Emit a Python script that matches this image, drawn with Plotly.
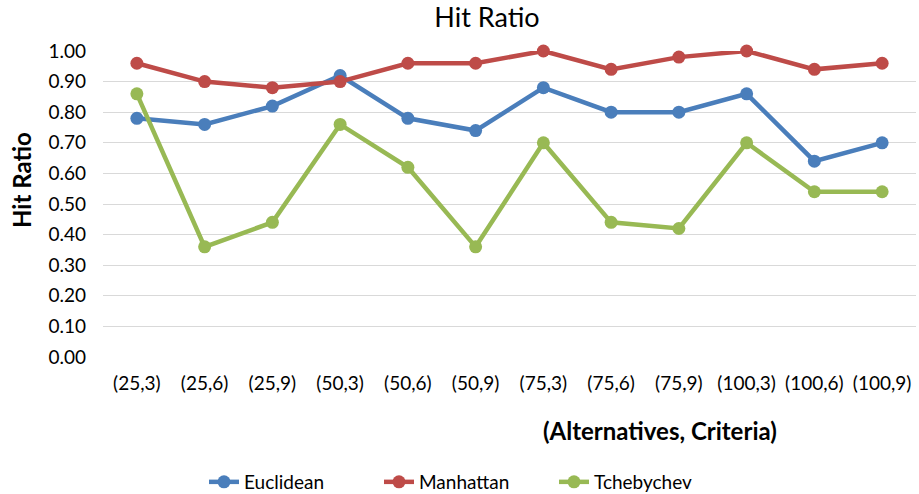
import plotly.graph_objects as go

categories = ["(25,3)", "(25,6)", "(25,9)", "(50,3)", "(50,6)", "(50,9)",
              "(75,3)", "(75,6)", "(75,9)", "(100,3)", "(100,6)", "(100,9)"]
euclidean = [0.78, 0.76, 0.82, 0.92, 0.78, 0.74, 0.88, 0.80, 0.80, 0.86, 0.64, 0.70]
manhattan = [0.96, 0.90, 0.88, 0.90, 0.96, 0.96, 1.00, 0.94, 0.98, 1.00, 0.94, 0.96]
tchebychev = [0.86, 0.36, 0.44, 0.76, 0.62, 0.36, 0.70, 0.44, 0.42, 0.70, 0.54, 0.54]
y_ticks = [0.0, 0.1, 0.2, 0.3, 0.4, 0.5, 0.6, 0.7, 0.8, 0.9, 1.0]

series = [("Euclidean", euclidean, "#4A7EBB"),
          ("Manhattan", manhattan, "#BE4B48"),
          ("Tchebychev", tchebychev, "#98B954")]

fig = go.Figure()
for name, vals, color in series:
    fig.add_trace(go.Scatter(
        x=categories, y=vals, name=name, mode="lines+markers",
        line=dict(color=color, width=4.5),
        marker=dict(color=color, size=13),
        cliponaxis=False,
    ))

font = "Lato, 'Open Sans', sans-serif"
fig.update_layout(
    width=919, height=494,
    margin=dict(l=103, r=3, t=51, b=137, autoexpand=False),
    plot_bgcolor="white", paper_bgcolor="white",
    font=dict(family=font, color="#000000", size=19),
    title=dict(text="Hit Ratio", xref="container", x=487 / 919, xanchor="center",
               yref="container", y=1 - 18 / 494, yanchor="middle",
               font=dict(size=27, color="#000000", family=font)),
    xaxis=dict(type="category", range=[-0.5, 11.5], showgrid=False, automargin=False,
               showline=False, ticks="", tickfont=dict(size=19), ticklabelstandoff=13),
    yaxis=dict(range=[0, 1.0], tickvals=y_ticks, tickformat=".2f", automargin=False,
               showgrid=True, gridcolor="#D9D9D9", gridwidth=1.3,
               zeroline=False, showline=False, ticks="",
               tickfont=dict(size=19), ticklabelstandoff=16),
    legend=dict(orientation="h", xref="container", yref="container",
                x=204 / 919, xanchor="left", y=1 - 482 / 494, yanchor="middle",
                font=dict(size=19), entrywidth=130, entrywidthmode="pixels"),
    annotations=[
        dict(text="<b>(Alternatives, Criteria)</b>", xref="paper", yref="paper",
             x=(660 - 103) / 813, y=-(430 - 357) / 306, xanchor="center",
             yanchor="middle", showarrow=False, font=dict(size=24)),
        dict(text="<b>Hit Ratio</b>", xref="paper", yref="paper",
             x=-(103 - 22) / 813, y=(357 - 180) / 306, xanchor="center",
             yanchor="middle", showarrow=False, textangle=-90, font=dict(size=24)),
    ],
)

fig.write_html("out.html", config={"displayModeBar": False},
               post_script="document.body.style.margin='0';document.body.style.overflow='hidden';")
